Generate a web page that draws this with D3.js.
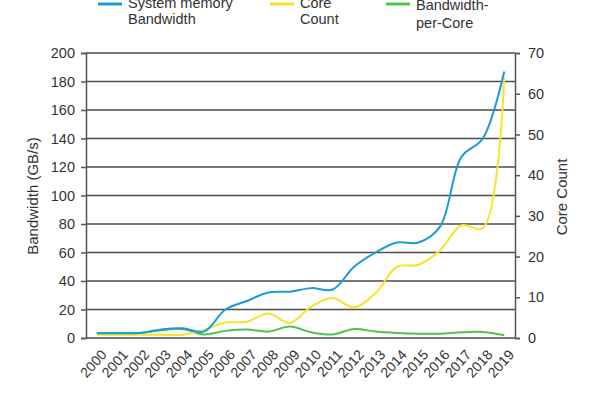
<!DOCTYPE html>
<html><head><meta charset="utf-8">
<script src="https://cdn.jsdelivr.net/npm/d3@7"></script>
<style>body{margin:0;background:#fff;} text{font-family:"Liberation Sans",Arial,sans-serif;fill:#333;}</style>
</head><body><svg id="c" width="600" height="400"></svg>
<script>
const years = ["2000","2001","2002","2003","2004","2005","2006","2007","2008","2009","2010","2011","2012","2013","2014","2015","2016","2017","2018","2019"];
const bandwidth = [3.3,3.3,3.5,6,6.8,4.5,20,26,32,32.5,35,34,50,60,67,67,78,127,140,187];
const coreCount = [0.8,0.8,0.8,0.8,0.8,2,3.8,4,6,3.7,7.7,9.8,7.5,11,17.5,18,21.5,27.7,27,64];
const perCore = [3.3,3.3,3.5,5.5,6.3,2.5,5,6,4.5,8,4,2.5,6.3,4.5,3.5,3,3,4,4.2,2];
const leftTicks = [0,20,40,60,80,100,120,140,160,180,200];
const rightTicks = [0,10,20,30,40,50,60,70];

const svg = d3.select("#c");
const L=86,R=515,T=53,B=338;
const x = d3.scalePoint().domain(years).range([L,R]).padding(0.5);
const yL = d3.scaleLinear().domain([0,200]).range([B,T]);
const yR = d3.scaleLinear().domain([0,70]).range([B,T]);

// grid
svg.append("g").selectAll("line").data(leftTicks).join("line")
  .attr("x1",L).attr("x2",R).attr("y1",d=>yL(d)).attr("y2",d=>yL(d))
  .attr("stroke","#4d4d4d").attr("stroke-width",1.5);

// left axis
const gl = svg.append("g").attr("transform",`translate(${L},0)`)
  .call(d3.axisLeft(yL).tickValues(leftTicks).tickSize(5).tickPadding(6));
gl.select(".domain").attr("stroke","#555").attr("stroke-width",1.5);
gl.selectAll(".tick line").attr("stroke","#555").attr("stroke-width",1.5);
gl.selectAll("text").style("font-size","14.5px").attr("fill","#333");

// right axis
const gr = svg.append("g").attr("transform",`translate(${R},0)`)
  .call(d3.axisRight(yR).tickValues(rightTicks).tickSize(5).tickPadding(8));
gr.select(".domain").attr("stroke","#555").attr("stroke-width",1.5);
gr.selectAll(".tick line").attr("stroke","#555").attr("stroke-width",1.5);
gr.selectAll("text").style("font-size","14.5px").attr("fill","#333");

// x labels
svg.append("g").selectAll("text").data(years).join("text")
  .attr("transform",d=>`translate(${x(d)+7},${B+14}) rotate(-48)`)
  .attr("text-anchor","end").attr("dy","0.35em").style("font-size","14px").text(d=>d);

// axis titles
svg.append("text").attr("transform",`translate(38,196) rotate(-90)`).attr("text-anchor","middle")
  .style("font-size","15px").text("Bandwidth (GB/s)");
svg.append("text").attr("transform",`translate(567,197) rotate(-90)`).attr("text-anchor","middle")
  .style("font-size","15px").text("Core Count");

// lines
const mk = (ys, arr) => d3.line().x((d,i)=>x(years[i])).y(d=>ys(d)).curve(d3.curveCatmullRom.alpha(0.5))(arr);
svg.append("path").attr("d",mk(yL,perCore)).attr("fill","none").attr("stroke","#4ec24a").attr("stroke-width",2);
svg.append("path").attr("d",mk(yR,coreCount)).attr("fill","none").attr("stroke","#f7e42a").attr("stroke-width",2);
svg.append("path").attr("d",mk(yL,bandwidth)).attr("fill","none").attr("stroke","#1b9ad6").attr("stroke-width",2);

// legend
const legend = [
  {c:"#1b9ad6", x:98, lines:["System memory","Bandwidth"], y0:3, lh:15.5},
  {c:"#f7e42a", x:270, lines:["Core","Count"], y0:3, lh:15.5},
  {c:"#4ec24a", x:386, lines:["Bandwidth-","per-Core"], y0:5, lh:17.5}
];
legend.forEach(l=>{
  svg.append("line").attr("x1",l.x).attr("x2",l.x+24).attr("y1",4).attr("y2",4).attr("stroke",l.c).attr("stroke-width",3);
  l.lines.forEach((t,i)=>svg.append("text").attr("x",l.x+30).attr("y",l.y0+i*l.lh).attr("dy","0.35em")
    .style("font-size","14.5px").text(t));
});
</script></body></html>
